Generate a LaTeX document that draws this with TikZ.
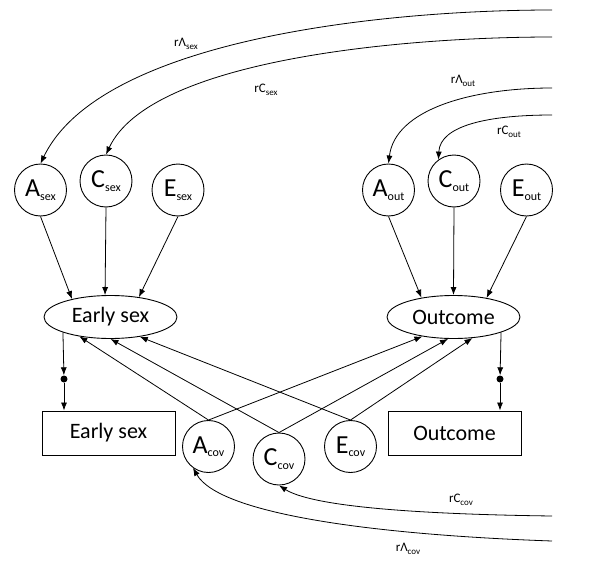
\documentclass[tikz,border=0pt]{standalone}
\usepackage{fontspec}
\setmainfont{Carlito}
\usetikzlibrary{arrows.meta,shapes.geometric}
\newcommand\cvar[2]{{\fontsize{26}{28}\selectfont #1}\raisebox{-3.5pt}{\fontsize{12}{12}\selectfont #2}}
\newcommand\rlab[2]{{\fontsize{13}{14}\selectfont r#1}\raisebox{-3pt}{\fontsize{9}{9}\selectfont #2}}
\tikzset{
  lv/.style={draw, circle, minimum size=52pt, inner sep=0pt, line width=0.9pt},
  latent/.style={draw, ellipse, minimum width=133pt, minimum height=43pt, inner sep=0pt, line width=0.9pt, font=\fontsize{22}{24}\selectfont},
  obs/.style={draw, rectangle, minimum width=133pt, minimum height=44pt, inner sep=0pt, line width=0.9pt, font=\fontsize{22}{24}\selectfont},
  arr/.style={-{Latex[length=8pt,width=6pt]}, line width=0.8pt},
  dotn/.style={circle, fill, inner sep=0pt, minimum size=7pt},
  lab/.style={inner sep=0pt}
}
\begin{document}
\begin{tikzpicture}[x=1pt,y=-1pt]
\useasboundingbox (0,0) rectangle (600,562);
% latent ACE variables
\node[lv] (Asex) at (40.5,190) {\cvar{A}{sex}};
\node[lv] (Csex) at (106,181) {\cvar{C}{sex}};
\node[lv] (Esex) at (178,190) {\cvar{E}{sex}};
\node[lv] (Aout) at (388.5,190) {\cvar{A}{out}};
\node[lv] (Cout) at (454,181) {\cvar{C}{out}};
\node[lv] (Eout) at (526.5,190) {\cvar{E}{out}};
\node[lv] (Acov) at (208.5,446.5) {\cvar{A}{cov}};
\node[lv] (Ccov) at (279,459) {\cvar{C}{cov}};
\node[lv] (Ecov) at (350.5,446.5) {\cvar{E}{cov}};
% phenotypes
\node[latent] (ES) at (110.5,317) {Early sex};
\node[latent] (OE) at (453.5,317) {Outcome};
\node[obs] (ESb) at (108.5,433) {Early sex};
\node[obs] (OEb) at (454.5,433) {Outcome};
\node[dotn] (d1) at (64,379) {};
\node[dotn] (d2) at (500,379) {};
% free ends of correlation curves
\coordinate (rAsexE) at (552,10);
\coordinate (rCsexE) at (552,37);
\coordinate (rAoutE) at (552,88);
\coordinate (rCoutE) at (552,115);
\coordinate (rCcovE) at (552,516);
\coordinate (rAcovE) at (552,541);
% curves
\draw[arr] (rAsexE) .. controls (380,10) and (100,40) .. (Asex.north);
\draw[arr] (rCsexE) .. controls (400,37) and (150,60) .. (Csex.north);
\draw[arr] (rAoutE) .. controls (470,88) and (395,110) .. (Aout.north);
\draw[arr] (rCoutE) .. controls (490,115) and (440,125) .. (Cout.126);
\draw[arr] (rCcovE) .. controls (400,514) and (310,505) .. (Ccov.south);
\draw[arr] (rAcovE) .. controls (380,535) and (220,515) .. (Acov.234);
% labels
\node[lab] (lAsex) at (186,44) {\rlab{Λ}{sex}};
\node[lab] (lCsex) at (266,90) {\rlab{C}{sex}};
\node[lab] (lAout) at (463,81) {\rlab{Λ}{out}};
\node[lab] (lCout) at (509,132) {\rlab{C}{out}};
\node[lab] (lCcov) at (461,500) {\rlab{C}{cov}};
\node[lab] (lAcov) at (408,549) {\rlab{Λ}{cov}};
% paths into latent phenotypes
\draw[arr] (Asex.south) -- (ES.155);
\draw[arr] (Csex.south) -- (ES.104);
\draw[arr] (Esex.south) -- (ES.35);
\draw[arr] (Aout.south) -- (OE.149);
\draw[arr] (Cout.south) -- (OE.90);
\draw[arr] (Eout.south) -- (OE.30);
\draw[arr] (Acov.north) -- (ES.212);
\draw[arr] (Ccov.north) -- (ES.270);
\draw[arr] (Ecov.north) -- (ES.326);
\draw[arr] (Acov.north) -- (OE.212);
\draw[arr] (Ccov.north) -- (OE.256);
\draw[arr] (Ecov.north) -- (OE.312);
% measurement
\draw[arr] (ES.198) -- (d1);
\draw[arr] (d1) -- (d1 |- ESb.north);
\draw[arr] (OE.342) -- (d2);
\draw[arr] (d2) -- (d2 |- OEb.north);
\end{tikzpicture}
\end{document}
